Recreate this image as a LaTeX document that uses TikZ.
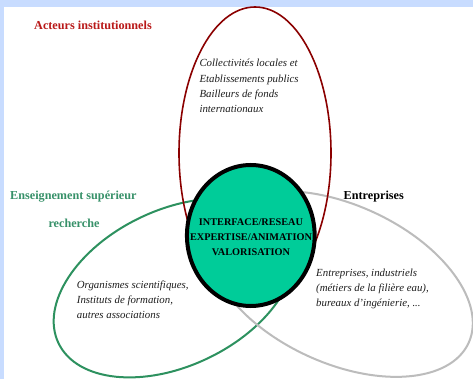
\documentclass[tikz,border=0pt]{standalone}
\usepackage{fontspec}
\setmainfont{Liberation Serif}
\usetikzlibrary{shapes.geometric}
\definecolor{bandblue}{RGB}{200,220,255}
\definecolor{instred}{RGB}{139,0,0}
\definecolor{titlered}{RGB}{185,25,25}
\definecolor{enseigngreen}{RGB}{45,145,95}
\definecolor{labelgreen}{RGB}{55,145,105}
\definecolor{entgray}{RGB}{188,188,188}
\definecolor{coregreen}{RGB}{0,204,153}
\definecolor{bodytext}{RGB}{30,30,30}
\begin{document}
\begin{tikzpicture}[x=1pt,y=-1pt,
  titlelbl/.style={anchor=base west, inner sep=0pt, font=\fontsize{12.2}{14}\selectfont\bfseries},
  bodylbl/.style={anchor=base west, inner sep=0pt, text=bodytext, font=\fontsize{10.85}{13}\selectfont\itshape},
  corelbl/.style={anchor=base, inner sep=0pt, text=black, font=\fontsize{10.25}{12}\selectfont\bfseries},
  ring/.style={line width=#1}]
\useasboundingbox (0,0) rectangle (473,379);
\fill[bandblue] (0,0) rectangle (473,379);
\fill[white] (4,7) rectangle (473,379);
% sector ellipses
\draw[enseigngreen, ring=2pt, rotate around={25.5:(174,288)}] (174,288) ellipse [x radius=128, y radius=78];
\draw[entgray, ring=2pt, rotate around={-24.7:(340.5,284)}] (340.5,284) ellipse [x radius=141, y radius=79];
\draw[instred, ring=1.6pt] (255,153) ellipse [x radius=76, y radius=146];
% core
\node[ellipse, draw=black, ring=4pt, fill=coregreen, minimum width=127.7pt, minimum height=141pt, inner sep=0pt] (core) at (250.8,235.5) {};
\node[corelbl] (c1) at (251,225.1) {INTERFACE/RESEAU};
\node[corelbl] (c2) at (251,240.5) {EXPERTISE/ANIMATION};
\node[corelbl] (c3) at (251,255.1) {VALORISATION};
% titles
\node[titlelbl, text=titlered] (acteurs) at (34,29.5) {Acteurs institutionnels};
\node[titlelbl, text=labelgreen] (ens1) at (10,200) {Enseignement supérieur};
\node[titlelbl, text=labelgreen] (ens2) at (48.3,227.5) {recherche};
\node[titlelbl, text=black] (entr) at (343.5,200) {Entreprises};
% body texts
\node[bodylbl] (r1) at (199.3,66.8) {Collectivités locales et};
\node[bodylbl] (r2) at (199.3,82.1) {Etablissements publics};
\node[bodylbl] (r3) at (199.3,97.4) {Bailleurs de fonds};
\node[bodylbl] (r4) at (199.3,112.7) {internationaux};
\node[bodylbl] (g1) at (76.7,288.3) {Organismes scientifiques,};
\node[bodylbl] (g2) at (76.7,303.2) {Instituts de formation,};
\node[bodylbl] (g3) at (76.7,318) {autres associations};
\node[bodylbl] (e1) at (316,276.6) {Entreprises, industriels};
\node[bodylbl] (e2) at (316,291.6) {(métiers de la filière eau),};
\node[bodylbl] (e3) at (316,306.4) {bureaux d’ingénierie, ...};
\end{tikzpicture}
\end{document}
